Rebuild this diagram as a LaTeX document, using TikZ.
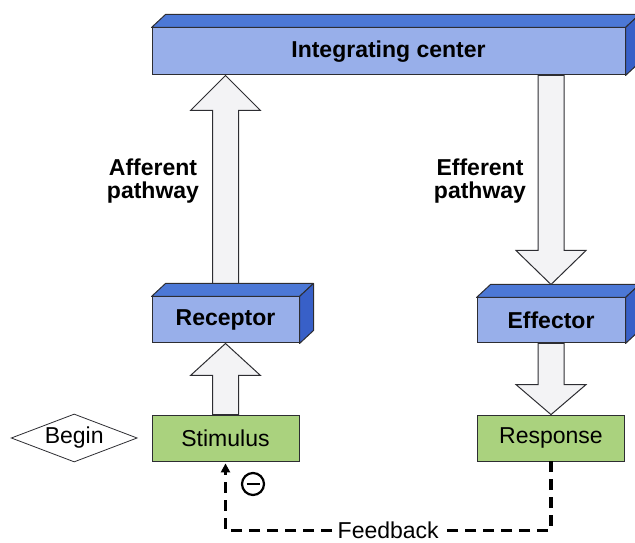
\documentclass[tikz,border=0pt]{standalone}
\usepackage{fontspec}
\setmainfont{Liberation Sans}
\usetikzlibrary{shapes.geometric,calc,arrows.meta,positioning}

\definecolor{slabfront}{RGB}{152,175,234}
\definecolor{slabtop}{RGB}{76,120,214}
\definecolor{slabside}{RGB}{56,96,200}
\definecolor{leafgreen}{RGB}{170,210,126}
\definecolor{arrowfill}{RGB}{243,243,245}
\definecolor{edgegray}{RGB}{45,45,50}

% top and side faces of a blue block
\newcommand{\slab}[1]{%
  \filldraw[slab face, fill=slabtop] (#1.north west) -- ++(14,13) -- ($(#1.north east)+(14,13)$) -- (#1.north east) -- cycle;
  \filldraw[slab face, fill=slabside] (#1.north east) -- ++(14,13) -- ($(#1.south east)+(14,13)$) -- (#1.south east) -- cycle;}

% hollow block arrow from #1 to #2, head length #3
\newcommand{\fatarrow}[3]{%
  \coordinate (hb) at ($(#2)!#3!(#1)$);
  \filldraw[fat arrow] ($(#1)+(-13,0)$) -- ($(hb)+(-13,0)$) -- ($(hb)+(-35,0)$) -- (#2)
    -- ($(hb)+(35,0)$) -- ($(hb)+(13,0)$) -- ($(#1)+(13,0)$) -- cycle;}

\begin{document}
\begin{tikzpicture}[x=1pt,y=1pt]
  \tikzstyle{slab} = [draw=edgegray, line width=1pt, fill=slabfront, inner sep=0pt,
                      font=\fontsize{23}{24}\selectfont\bfseries]
  \tikzstyle{slab face} = [draw=edgegray, line width=1pt, line join=round]
  \tikzstyle{leaf} = [draw=edgegray, line width=0.8pt, fill=leafgreen, inner sep=0pt,
                      minimum width=147pt, minimum height=46pt, font=\fontsize{23}{24}\selectfont]
  \tikzstyle{fat arrow} = [draw=edgegray, line width=1pt, fill=arrowfill, line join=miter]
  \tikzstyle{pathway} = [align=center, font=\fontsize{23}{23}\selectfont\bfseries]
  \tikzstyle{feedback} = [line width=3.5pt, dash pattern=on 11pt off 7pt]
  \useasboundingbox (0,0) rectangle (635,543);

  % blocks
  \node[slab, minimum width=473pt, minimum height=47pt] (integ) at (388.5,491.5) {Integrating center};
  \node[slab, minimum width=147pt, minimum height=46pt] (receptor) at (225.5,223) {Receptor};
  \node[slab, minimum width=148pt, minimum height=45pt] (effector) at (551,222.5) {Effector};
  \node[leaf] (stimulus) at (225.5,105) {Stimulus};
  \node[leaf] (response) at (551,105) {Response};
  \node[diamond, draw=edgegray, line width=0.8pt, fill=white, aspect=2.6, inner sep=0pt,
        minimum width=126pt, minimum height=48pt, font=\fontsize{23}{24}\selectfont,
        left=14pt of stimulus] (begin) {Begin};

  % pathways
  \coordinate (afftip) at (receptor.north |- integ.south);
  \coordinate (efftop) at (effector.north |- integ.south);
  \coordinate (efftip) at ($(effector.north)+(0,13)$);
  \fatarrow{receptor.north}{afftip}{35pt}
  \fatarrow{efftop}{efftip}{34pt}
  \fatarrow{stimulus.north}{receptor.south}{32pt}
  \fatarrow{effector.south}{response.north}{30pt}

  \slab{integ}
  \slab{receptor}
  \slab{effector}

  \node[pathway] (afferent) at (153,362) {Afferent\\pathway};
  \node[pathway] (efferent) at (480,362) {Efferent\\pathway};

  % feedback loop
  \draw[feedback, -{Triangle[length=9pt,width=9pt]}] (response.south) -- ++(0,-69)
    -| node[pos=0.25, fill=white, inner sep=2pt, font=\fontsize{23}{24}\selectfont] (fblabel) {Feedback}
    ([yshift=-2pt]stimulus.south);
  \node[circle, draw, line width=2.2pt, minimum size=22pt, inner sep=0pt] (minus) at (253,59) {};
  \draw[line width=2.4pt] ([xshift=-6.5pt]minus.center) -- ([xshift=6.5pt]minus.center);
\end{tikzpicture}
\end{document}
